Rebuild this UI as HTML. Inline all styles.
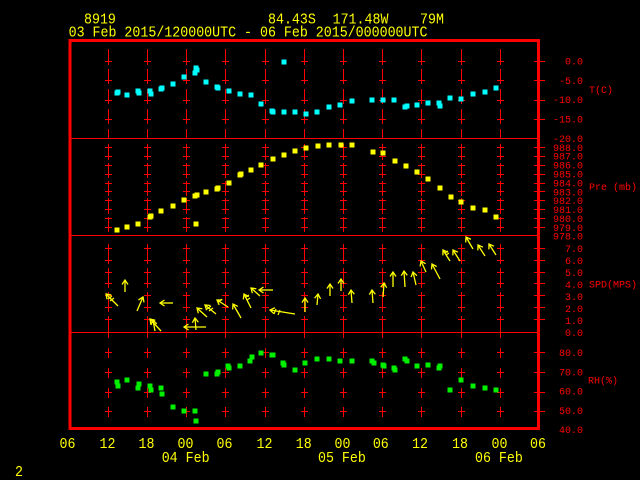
<!DOCTYPE html>
<html><head><meta charset="utf-8"><style>
html,body{margin:0;padding:0;background:#000;}
svg{display:block;}
text{font-family:"Liberation Mono","DejaVu Sans Mono",monospace;}
</style></head><body>
<svg width="640" height="480" viewBox="0 0 640 480" xmlns="http://www.w3.org/2000/svg">
<defs>
<marker id="ah" viewBox="-6 -4 8 8" markerWidth="8" markerHeight="8" refX="0" refY="0" orient="auto" markerUnits="userSpaceOnUse">
<path d="M-4.5,-3 L0,0 L-4.5,3" stroke="#ffff00" fill="none" stroke-width="1.3"/>
</marker>
<g id="col" stroke="#ff0000" stroke-width="1" fill="none">
<path d="M0 49V65M0 69V84M0 89V104M0 109V124M0 129V138
M-3.5 61.5H3.5M-3.5 80.5H3.5M-3.5 100.5H3.5M-3.5 119.5H3.5
M0 144V160M0 163V178M0 181V196M0 198V214M0 217V232
M-3.5 147.5H3.5M-3.5 156.5H3.5M-3.5 165.5H3.5M-3.5 174.5H3.5M-3.5 183.5H3.5M-3.5 191.5H3.5M-3.5 200.5H3.5M-3.5 209.5H3.5M-3.5 218.5H3.5M-3.5 227.5H3.5
M0 244V264M0 268V288M0 292V312M0 316V338
M-3.5 248.5H3.5M-3.5 260.5H3.5M-3.5 272.5H3.5M-3.5 283.5H3.5M-3.5 295.5H3.5M-3.5 307.5H3.5M-3.5 319.5H3.5
M0 348V358M0 368V378M0 388V398M0 407V417
M-3.5 352.5H3.5M-3.5 372.5H3.5M-3.5 392.5H3.5M-3.5 411.5H3.5"/>
</g>
</defs>

<rect width="640" height="480" fill="#000"/>

<!-- grid columns -->
<use href="#col" x="108.5"/>
<use href="#col" x="147.5"/>
<use href="#col" x="186.5"/>
<use href="#col" x="225.5"/>
<use href="#col" x="265.5"/>
<use href="#col" x="304.5"/>
<use href="#col" x="343.5"/>
<use href="#col" x="382.5"/>
<use href="#col" x="421.5"/>
<use href="#col" x="461.5"/>
<use href="#col" x="500.5"/>

<!-- separators -->
<path d="M70 138.5H538M70 235.5H538M70 332.5H538" stroke="#ff0000" stroke-width="1"/>

<!-- right ticks -->
<path stroke="#ff0000" stroke-width="1" d="M534 61.5H545M534 80.5H545M534 100.5H545M534 119.5H545
M534 147.5H545M534 156.5H545M534 165.5H545M534 174.5H545M534 183.5H545M534 191.5H545M534 200.5H545M534 209.5H545M534 218.5H545M534 227.5H545
M534 248.5H545M534 260.5H545M534 272.5H545M534 283.5H545M534 295.5H545M534 307.5H545M534 319.5H545
M534 352.5H545M534 372.5H545M534 392.5H545M534 411.5H545"/>

<!-- frame -->
<rect x="70" y="40.5" width="468.5" height="388" fill="none" stroke="#ff0000" stroke-width="3"/>

<!-- temperature -->
<g fill="#00ffff">
<rect x="114.5" y="90.5" width="5" height="5"/>
<rect x="115.5" y="89.5" width="5" height="5"/>
<rect x="124.5" y="92.5" width="5" height="5"/>
<rect x="135.5" y="88.5" width="5" height="5"/>
<rect x="136.5" y="90.5" width="5" height="5"/>
<rect x="147.5" y="88.5" width="5" height="5"/>
<rect x="148.5" y="91.5" width="5" height="5"/>
<rect x="158.5" y="86.5" width="5" height="5"/>
<rect x="159.5" y="85.5" width="5" height="5"/>
<rect x="170.5" y="81.5" width="5" height="5"/>
<rect x="181.5" y="74.5" width="5" height="5"/>
<rect x="192.5" y="70.5" width="5" height="5"/>
<rect x="193.5" y="65.5" width="5" height="5"/>
<rect x="194.5" y="67.5" width="5" height="5"/>
<rect x="203.5" y="79.5" width="5" height="5"/>
<rect x="214.5" y="84.5" width="5" height="5"/>
<rect x="215.5" y="85.5" width="5" height="5"/>
<rect x="226.5" y="88.5" width="5" height="5"/>
<rect x="237.5" y="91.5" width="5" height="5"/>
<rect x="248.5" y="92.5" width="5" height="5"/>
<rect x="258.5" y="101.5" width="5" height="5"/>
<rect x="269.5" y="108.5" width="5" height="5"/>
<rect x="270.5" y="109.5" width="5" height="5"/>
<rect x="281.5" y="109.5" width="5" height="5"/>
<rect x="292.5" y="109.5" width="5" height="5"/>
<rect x="303.5" y="111.5" width="5" height="5"/>
<rect x="314.5" y="109.5" width="5" height="5"/>
<rect x="326.5" y="104.5" width="5" height="5"/>
<rect x="337.5" y="102.5" width="5" height="5"/>
<rect x="349.5" y="98.5" width="5" height="5"/>
<rect x="369.5" y="97.5" width="5" height="5"/>
<rect x="380.5" y="97.5" width="5" height="5"/>
<rect x="391.5" y="97.5" width="5" height="5"/>
<rect x="402.5" y="104.5" width="5" height="5"/>
<rect x="404.5" y="103.5" width="5" height="5"/>
<rect x="414.5" y="102.5" width="5" height="5"/>
<rect x="425.5" y="100.5" width="5" height="5"/>
<rect x="436.5" y="100.5" width="5" height="5"/>
<rect x="437.5" y="103.5" width="5" height="5"/>
<rect x="447.5" y="95.5" width="5" height="5"/>
<rect x="458.5" y="96.5" width="5" height="5"/>
<rect x="470.5" y="91.5" width="5" height="5"/>
<rect x="482.5" y="89.5" width="5" height="5"/>
<rect x="493.5" y="85.5" width="5" height="5"/>
<rect x="281.5" y="59.5" width="5" height="5"/>
</g>

<!-- pressure -->
<g fill="#ffff00">
<rect x="114.5" y="227.5" width="5" height="5"/>
<rect x="124.5" y="224.5" width="5" height="5"/>
<rect x="135.5" y="221.5" width="5" height="5"/>
<rect x="147.5" y="214.5" width="5" height="5"/>
<rect x="148.5" y="213.5" width="5" height="5"/>
<rect x="158.5" y="208.5" width="5" height="5"/>
<rect x="170.5" y="203.5" width="5" height="5"/>
<rect x="181.5" y="197.5" width="5" height="5"/>
<rect x="192.5" y="193.5" width="5" height="5"/>
<rect x="194.5" y="192.5" width="5" height="5"/>
<rect x="193.5" y="221.5" width="5" height="5"/>
<rect x="203.5" y="189.5" width="5" height="5"/>
<rect x="214.5" y="186.5" width="5" height="5"/>
<rect x="215.5" y="185.5" width="5" height="5"/>
<rect x="226.5" y="180.5" width="5" height="5"/>
<rect x="237.5" y="172.5" width="5" height="5"/>
<rect x="238.5" y="171.5" width="5" height="5"/>
<rect x="248.5" y="167.5" width="5" height="5"/>
<rect x="258.5" y="162.5" width="5" height="5"/>
<rect x="270.5" y="156.5" width="5" height="5"/>
<rect x="281.5" y="152.5" width="5" height="5"/>
<rect x="292.5" y="148.5" width="5" height="5"/>
<rect x="303.5" y="145.5" width="5" height="5"/>
<rect x="315.5" y="143.5" width="5" height="5"/>
<rect x="326.5" y="142.5" width="5" height="5"/>
<rect x="338.5" y="142.5" width="5" height="5"/>
<rect x="349.5" y="142.5" width="5" height="5"/>
<rect x="370.5" y="149.5" width="5" height="5"/>
<rect x="380.5" y="150.5" width="5" height="5"/>
<rect x="392.5" y="158.5" width="5" height="5"/>
<rect x="403.5" y="163.5" width="5" height="5"/>
<rect x="414.5" y="169.5" width="5" height="5"/>
<rect x="425.5" y="176.5" width="5" height="5"/>
<rect x="437.5" y="185.5" width="5" height="5"/>
<rect x="448.5" y="194.5" width="5" height="5"/>
<rect x="458.5" y="199.5" width="5" height="5"/>
<rect x="470.5" y="205.5" width="5" height="5"/>
<rect x="482.5" y="207.5" width="5" height="5"/>
<rect x="493.5" y="214.5" width="5" height="5"/>
</g>

<!-- wind arrows -->
<g stroke="#ffff00" stroke-width="1.3" fill="none" marker-end="url(#ah)">
<path d="M118 306L106 294"/>
<path d="M125 292L125 280"/>
<path d="M137 311L143 297"/>
<path d="M173 303L160 303"/>
<path d="M161 331L150 319"/>
<path d="M155 331L153 320"/>
<path d="M206 327L184 327"/>
<path d="M196 330L195 318"/>
<path d="M207 317L197 308"/>
<path d="M216 314L205 305"/>
<path d="M228 307L217 300"/>
<path d="M241 318L233 304"/>
<path d="M251 308L244 294"/>
<path d="M260 296L251 288"/>
<path d="M273 290L259 290"/>
<path d="M295 314L270 310"/>
<path d="M305 312L305 298"/>
<path d="M317 305L318 294"/>
<path d="M330 296L330 284"/>
<path d="M341 291L341 279"/>
<path d="M352 303L351 290"/>
<path d="M373 303L372 290"/>
<path d="M383 297L384 283"/>
<path d="M393 287L393 272"/>
<path d="M405 287L404 271"/>
<path d="M416 285L413 272"/>
<path d="M426 272L421 261"/>
<path d="M440 279L432 264"/>
<path d="M450 261L443 250"/>
<path d="M460 261L453 250"/>
<path d="M473 249L466 237"/>
<path d="M485 256L478 245"/>
<path d="M496 255L489 244"/>
</g>
<!-- small feather marks -->
<g stroke="#ffff00" stroke-width="1.2" fill="none">
<path d="M108 299L112 296M110 301L114 298"/>
<path d="M276 309L274 314M280 310L278 315"/>
<path d="M207 309L211 306M209 311L213 308"/>
<path d="M219 302L222 299"/>
<path d="M246 297L249 295M247 300L250 298"/>
<path d="M445 253L448 251M446 255L449 253"/>
</g>

<!-- RH -->
<g fill="#00f000">
<rect x="114.5" y="379.5" width="5" height="5"/>
<rect x="115.5" y="383.5" width="5" height="5"/>
<rect x="124.5" y="377.5" width="5" height="5"/>
<rect x="135.5" y="385.5" width="5" height="5"/>
<rect x="136.5" y="381.5" width="5" height="5"/>
<rect x="147.5" y="383.5" width="5" height="5"/>
<rect x="148.5" y="387.5" width="5" height="5"/>
<rect x="158.5" y="385.5" width="5" height="5"/>
<rect x="159.5" y="391.5" width="5" height="5"/>
<rect x="170.5" y="404.5" width="5" height="5"/>
<rect x="181.5" y="408.5" width="5" height="5"/>
<rect x="192.5" y="408.5" width="5" height="5"/>
<rect x="193.5" y="418.5" width="5" height="5"/>
<rect x="203.5" y="371.5" width="5" height="5"/>
<rect x="214.5" y="371.5" width="5" height="5"/>
<rect x="215.5" y="369.5" width="5" height="5"/>
<rect x="225.5" y="363.5" width="5" height="5"/>
<rect x="226.5" y="365.5" width="5" height="5"/>
<rect x="237.5" y="363.5" width="5" height="5"/>
<rect x="247.5" y="358.5" width="5" height="5"/>
<rect x="249.5" y="354.5" width="5" height="5"/>
<rect x="258.5" y="350.5" width="5" height="5"/>
<rect x="269.5" y="352.5" width="5" height="5"/>
<rect x="270.5" y="352.5" width="5" height="5"/>
<rect x="280.5" y="360.5" width="5" height="5"/>
<rect x="281.5" y="362.5" width="5" height="5"/>
<rect x="292.5" y="367.5" width="5" height="5"/>
<rect x="302.5" y="360.5" width="5" height="5"/>
<rect x="314.5" y="356.5" width="5" height="5"/>
<rect x="326.5" y="356.5" width="5" height="5"/>
<rect x="337.5" y="358.5" width="5" height="5"/>
<rect x="349.5" y="358.5" width="5" height="5"/>
<rect x="369.5" y="358.5" width="5" height="5"/>
<rect x="371.5" y="360.5" width="5" height="5"/>
<rect x="380.5" y="362.5" width="5" height="5"/>
<rect x="381.5" y="363.5" width="5" height="5"/>
<rect x="391.5" y="365.5" width="5" height="5"/>
<rect x="392.5" y="367.5" width="5" height="5"/>
<rect x="402.5" y="356.5" width="5" height="5"/>
<rect x="404.5" y="358.5" width="5" height="5"/>
<rect x="414.5" y="363.5" width="5" height="5"/>
<rect x="425.5" y="362.5" width="5" height="5"/>
<rect x="436.5" y="365.5" width="5" height="5"/>
<rect x="437.5" y="363.5" width="5" height="5"/>
<rect x="447.5" y="387.5" width="5" height="5"/>
<rect x="458.5" y="377.5" width="5" height="5"/>
<rect x="470.5" y="383.5" width="5" height="5"/>
<rect x="482.5" y="385.5" width="5" height="5"/>
<rect x="493.5" y="387.5" width="5" height="5"/>
</g>

<!-- titles -->
<g fill="#ffff00" font-size="13.3">
<text transform="translate(84,23.3) scale(1,1.1)">8919</text>
<text transform="translate(268,23.3) scale(1,1.1)">84.43S</text>
<text transform="translate(332.6,23.3) scale(1,1.1)">171.48W</text>
<text transform="translate(420,23.3) scale(1,1.1)">79M</text>
<text transform="translate(68.6,36.7) scale(1,1.1)">03 Feb 2015/120000UTC - 06 Feb 2015/000000UTC</text>
</g>

<!-- x labels -->
<g fill="#ffff00" font-size="13.3" text-anchor="middle">
<text transform="translate(67.5,448) scale(1,1.1)">06</text>
<text transform="translate(107.5,448) scale(1,1.1)">12</text>
<text transform="translate(146.5,448) scale(1,1.1)">18</text>
<text transform="translate(185.5,448) scale(1,1.1)">00</text>
<text transform="translate(224.5,448) scale(1,1.1)">06</text>
<text transform="translate(264.5,448) scale(1,1.1)">12</text>
<text transform="translate(303.7,448) scale(1,1.1)">18</text>
<text transform="translate(342.5,448) scale(1,1.1)">00</text>
<text transform="translate(380.8,448) scale(1,1.1)">06</text>
<text transform="translate(420,448) scale(1,1.1)">12</text>
<text transform="translate(460,448) scale(1,1.1)">18</text>
<text transform="translate(499.5,448) scale(1,1.1)">00</text>
<text transform="translate(538,448) scale(1,1.1)">06</text>
</g>
<g fill="#ffff00" font-size="13.3">
<text transform="translate(161.7,462) scale(1,1.1)">04 Feb</text>
<text transform="translate(318,462) scale(1,1.1)">05 Feb</text>
<text transform="translate(475,462) scale(1,1.1)">06 Feb</text>
<text transform="translate(15,476) scale(1,1.1)">2</text>
</g>

<!-- right axis labels -->
<g fill="#ff0000" font-size="10" text-anchor="end">
<text x="583" y="64.5">0.0</text>
<text x="583" y="83.8">-5.0</text>
<text x="583" y="103.2">-10.0</text>
<text x="583" y="122.5">-15.0</text>
<text x="583" y="141.8">-20.0</text>
<text x="583" y="150.8">988.0</text>
<text x="583" y="159.7">987.0</text>
<text x="583" y="168.6">986.0</text>
<text x="583" y="177.5">985.0</text>
<text x="583" y="186.4">984.0</text>
<text x="583" y="195.3">983.0</text>
<text x="583" y="204.2">982.0</text>
<text x="583" y="213.1">981.0</text>
<text x="583" y="221.9">980.0</text>
<text x="583" y="230.8">979.0</text>
<text x="583" y="239.7">978.0</text>
<text x="583" y="251.8">7.0</text>
<text x="583" y="263.8">6.0</text>
<text x="583" y="275.8">5.0</text>
<text x="583" y="287.8">4.0</text>
<text x="583" y="299.8">3.0</text>
<text x="583" y="311.8">2.0</text>
<text x="583" y="323.8">1.0</text>
<text x="583" y="335.8">0.0</text>
<text x="583" y="356.2">80.0</text>
<text x="583" y="375.4">70.0</text>
<text x="583" y="394.6">60.0</text>
<text x="583" y="413.8">50.0</text>
<text x="583" y="432.8">40.0</text>
</g>
<g fill="#ff0000" font-size="10">
<text x="589" y="93">T(C)</text>
<text x="589" y="190">Pre (mb)</text>
<text x="589" y="287.5">SPD(MPS)</text>
<text x="588" y="383.5">RH(%)</text>
</g>
</svg>
</body></html>
